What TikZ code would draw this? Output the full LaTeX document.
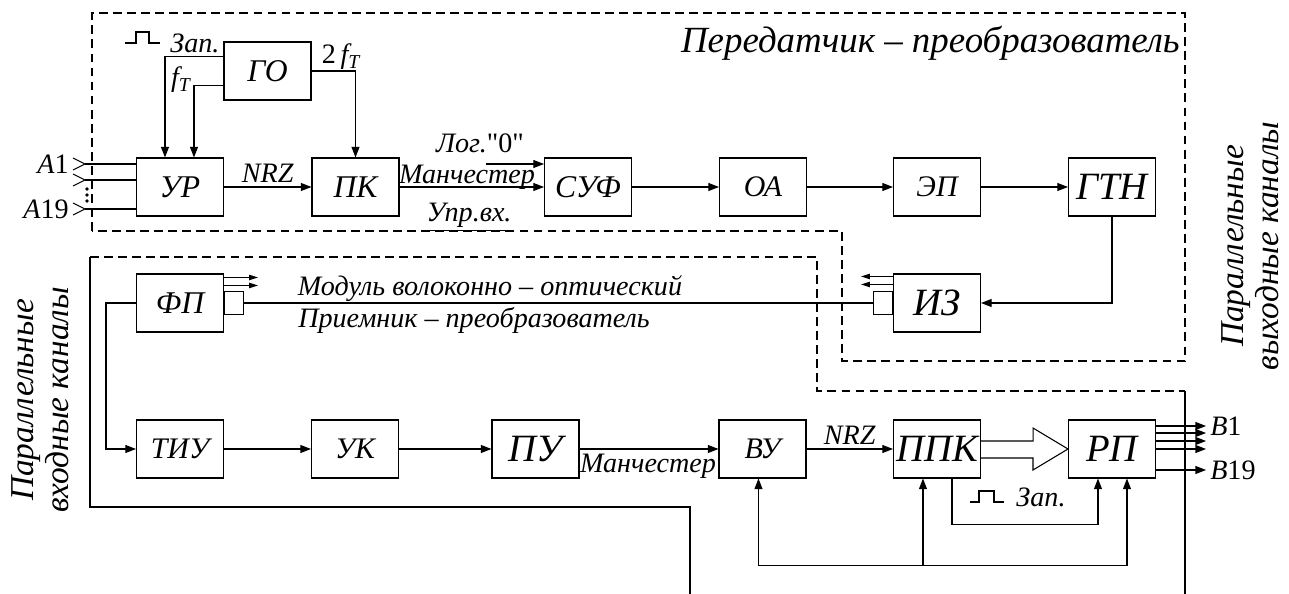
\documentclass[tikz,border=0pt]{standalone}
\usepackage{fontspec}
\setmainfont{Liberation Serif}
\newfontfamily\plainserif{Liberation Serif}
\usetikzlibrary{arrows.meta,calc,positioning}

\begin{document}
\begin{tikzpicture}[
      x=0.02cm,y=-0.02cm,line width=0.6pt,
      blk/.style={draw=black,minimum width=1.74cm,minimum height=1.16cm,inner sep=0pt,
        font=\fontsize{18}{20}\selectfont\itshape},
      bigblk/.style={blk,font=\fontsize{22}{24}\selectfont\itshape},
      smlblk/.style={blk,font=\fontsize{17}{19}\selectfont\itshape},
      portbox/.style={draw=black,inner sep=0pt,minimum width=0.38cm,minimum height=0.47cm},
      arr/.style={-{Triangle[length=6pt,width=4.5pt]}},
      tinyarr/.style={-{Triangle[length=5pt,width=3pt]}},
      brdline/.style={dash pattern=on 5pt off 3pt},
      lbl/.style={inner sep=1pt,font=\fontsize{16}{18}\selectfont\itshape},
      bigtxt/.style={inner sep=1pt,align=center,font=\fontsize{19}{20}\selectfont\itshape}
    ]
    \useasboundingbox (0,0) rectangle (1289,594);

    % transmitter
    \node[blk]    (ur)  at (180,187)   {УР};
    \node[blk]    (go)  at (267.5,71)  {ГО};
    \node[blk]    (pk)  at (355.5,187) {ПК};
    \node[blk]    (suf) at (588,187)   {СУФ};
    \node[smlblk] (oa)  at (763,187)   {ОА};
    \node[smlblk] (ep)  at (937,187)   {ЭП};
    \node[bigblk] (gtn) at (1112,187)  {ГТН};
    \node[bigblk] (iz)  at (937,303)   {ИЗ};

    % receiver
    \node[blk]    (fp)  at (180,303)   {ФП};
    \node[smlblk] (tiu) at (180,449)   {ТИУ};
    \node[smlblk] (uk)  at (355,449)   {УК};
    \node[bigblk] (pu)  at (535.5,449) {ПУ};
    \node[smlblk] (vu)  at (762.5,449) {ВУ};
    \node[bigblk] (ppk) at (937,449)   {ППК};
    \node[bigblk] (rp)  at (1112,449)  {РП};

    \node[portbox,anchor=west] (fpport) at (fp.east) {};
    \node[portbox,anchor=east] (izport) at (iz.west) {};

    % frames
    \draw[brdline] (92,231) -- (92,13) -- (1185,13) -- (1185,361) -- (842,361) -- (842,231) -- cycle;
    \draw (690,594) -- (690,507) -- (90,507) -- (90,257);
    \draw[brdline] (90,257) -- (817,257) -- (817,391) -- (1185,391);
    \draw (1185,391) -- (1185,594);

    \node[lbl,anchor=east,font=\fontsize{21}{23}\selectfont\itshape] (txtitle) at (1182,43)
      {Передатчик – преобразователь};
    \node[bigtxt,rotate=90] (intxt)  at (40,400)   {Параллельные\\входные каналы};
    \node[bigtxt,rotate=90] (outtxt) at (1250,246) {Параллельные\\выходные каналы};

    % inputs
    \foreach \yy/\nm in {164/a1,180/a2,209/a19} {
      \coordinate (in\nm) at (85,\yy);
      \draw ($(in\nm)+(-12,-6)$) -- (in\nm) -- ($(in\nm)+(-12,6)$);
      \draw (in\nm) -- (in\nm -| ur.west);
    }
    \foreach \yy in {189,195,201} \fill (87,\yy) circle (1.1pt);
    \node[lbl,anchor=east] (a1txt)  at (71,164) {A\upshape 1};
    \node[lbl,anchor=east] (a19txt) at (71,209) {A\upshape 19};

    % clock
    \draw (125,43) -- (136,43) -- (136,32) -- (149,32) -- (149,43) -- (160,43);
    \node[lbl] (zap1) at (195,43) {Зап.};
    \draw[arr] ($(go.north west)+(0,15)$) -| ($(ur.north west)+(29,0)$);
    \draw[arr] ($(go.north west)+(0,44)$) -| ($(ur.north west)+(58,0)$);
    \node[lbl] (ftxt) at (181,80) {f\textsubscript{T}};
    \draw[arr] (go.east) -| (pk.north);
    \node[lbl] (f2txt) at (341,57) {\upshape 2\,\itshape f\textsubscript{T}};

    % transmitter chain
    \draw[arr] (ur) -- (pk) node[lbl,midway,above=1pt] {NRZ};
    \draw[arr] (pk) -- (suf);
    \coordinate (log0) at (486,164);
    \draw[arr] (log0) -- (log0 -| suf.west);
    \node[lbl] (logtxt) at (480,143) {Лог.{\plainserif\upshape "0"}};
    \node[lbl] (mantxt) at (467,177) {Манчестер};
    \node[lbl] (uprtxt) at (469,217) {\underline{Упр.вх.}};
    \draw[arr] (suf) -- (oa);
    \draw[arr] (oa) -- (ep);
    \draw[arr] (ep) -- (gtn);
    \draw[arr] (gtn.south) |- (iz.east);

    % fibre
    \draw (fpport.east) -- (izport.west);
    \node[lbl] (modtxt)   at (490,289) {Модуль волоконно – оптический};
    \node[lbl] (priemtxt) at (474,320) {Приемник – преобразователь};
    \draw[tinyarr] ($(fp.north east)+(0,4)$)  -- ++(34,0);
    \draw[tinyarr] ($(fp.north east)+(0,12)$) -- ++(34,0);
    \draw[tinyarr] ($(iz.north west)+(0,3)$)  -- ++(-32,0);
    \draw[tinyarr] ($(iz.north west)+(0,11)$) -- ++(-32,0);

    % receiver chain
    \draw[arr] (fp.west) -- ++(-30,0) |- (tiu.west);
    \draw[arr] (tiu) -- (uk);
    \draw[arr] (uk) -- (pu);
    \draw[arr] (pu) -- (vu);
    \node[lbl] (man2txt) at (648,466) {Манчестер};
    \draw[arr] (vu) -- (ppk) node[lbl,midway,above=1pt] {NRZ};
    \draw ($(ppk.east)+(0,-8)$) -- ++(52,0) -- ++(0,-13) -- (rp.west)
      -- ++(-35,21) -- ++(0,-12) -- ($(ppk.east)+(0,9)$);

    % outputs
    \foreach \dy in {-23,-16,-8,0,21}
      \draw[arr] ($(rp.east)+(0,\dy)$) -- ++(50,0);
    \node[lbl,anchor=west] (b1txt)  at (1208,426) {B\upshape 1};
    \node[lbl,anchor=west] (b19txt) at (1208,470) {B\upshape 19};

    % control lines
    \coordinate (zapl) at ($(ppk.south west)+(59,46)$);
    \coordinate (zapr) at ($(rp.south west)+(30,46)$);
    \draw[arr] (zapl |- ppk.south) -- (zapl) -- (zapr) -- (zapr |- rp.south);
    \draw (970,502) -- (979,502) -- (979,491) -- (994,491) -- (994,502) -- (1004,502);
    \node[lbl] (zap2) at (1041,497) {Зап.};

    \coordinate (busl) at ($(vu.south west)+(40,87)$);
    \coordinate (busm) at ($(ppk.south west)+(30,87)$);
    \coordinate (busr) at ($(rp.south west)+(59,87)$);
    \draw (busl) -- (busr);
    \draw[arr] (busl) -- (busl |- vu.south);
    \draw[arr] (busm) -- (busm |- ppk.south);
    \draw[arr] (busr) -- (busr |- rp.south);
  \end{tikzpicture}
\end{document}
